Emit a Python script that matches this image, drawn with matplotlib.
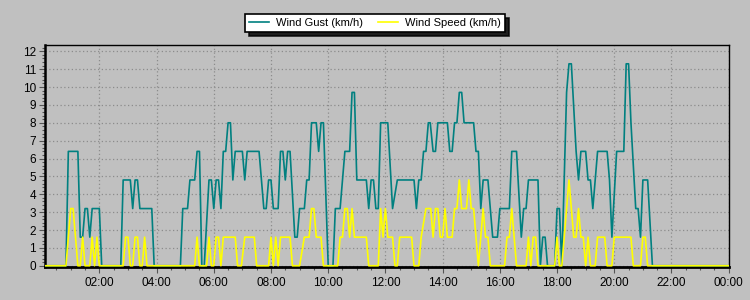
import matplotlib
matplotlib.use("Agg")
import matplotlib.pyplot as plt
from matplotlib.ticker import MultipleLocator, FuncFormatter

# ---- data (minutes of day, km/h) ----
gust_minutes = [5, 50, 55, 75, 80, 85, 90, 95, 100, 105, 120, 125, 165, 170, 185, 190, 195, 200, 205, 230,
                235, 290, 295, 305, 310, 320, 325, 330, 335, 340, 350, 355, 360, 365, 370, 375, 380, 385, 390, 395,
                400, 405, 420, 425, 430, 455, 465, 470, 475, 480, 485, 495, 500, 505, 510, 515, 520, 530, 535, 540,
                550, 555, 560, 565, 575, 580, 585, 590, 600, 610, 615, 625, 635, 645, 650, 655, 660, 680, 685, 690,
                695, 700, 705, 710, 725, 735, 745, 780, 785, 790, 795, 800, 805, 810, 814, 820, 825, 830, 850, 855,
                860, 865, 870, 875, 880, 885, 905, 910, 915, 920, 925, 935, 945, 955, 960, 980, 985, 995, 1005, 1010,
                1015, 1020, 1040, 1045, 1050, 1055, 1060, 1075, 1080, 1085, 1090, 1100, 1105, 1110, 1120, 1125, 1130,
                1140, 1145, 1150, 1155, 1165, 1185, 1190, 1195, 1205, 1220, 1225, 1230, 1235, 1245, 1250, 1255, 1260,
                1270, 1280, 1440]
gust_values = [0, 0, 6.4, 6.4, 1.6, 1.6, 3.2, 3.2, 1.6, 3.2, 3.2, 0, 0, 4.8, 4.8, 3.2, 4.8, 4.8, 3.2, 3.2,
               0, 0, 3.2, 3.2, 4.8, 4.8, 6.4, 6.4, 0, 0, 4.8, 4.8, 3.2, 4.8, 4.8, 3.2, 6.4, 6.4, 8.0, 8.0,
               4.8, 6.4, 6.4, 4.8, 6.4, 6.4, 3.2, 3.2, 4.8, 4.8, 3.2, 3.2, 6.4, 6.4, 4.8, 6.4, 6.4, 1.6, 1.6, 3.2,
               3.2, 4.8, 4.8, 8.0, 8.0, 6.4, 8.0, 8.0, 0, 0, 3.2, 3.2, 6.4, 6.4, 9.7, 9.7, 4.8, 4.8, 3.2, 4.8,
               4.8, 3.2, 3.2, 8.0, 8.0, 3.2, 4.8, 4.8, 3.2, 4.8, 4.8, 6.4, 6.4, 8.0, 8.0, 6.4, 6.4, 8.0, 8.0, 6.4,
               6.4, 8.0, 8.0, 9.7, 9.7, 8.0, 8.0, 6.4, 6.4, 3.2, 4.8, 4.8, 1.6, 1.6, 3.2, 3.2, 6.4, 6.4, 1.6, 3.2,
               3.2, 4.8, 4.8, 0, 1.6, 1.6, 0, 0, 3.2, 3.2, 0, 9.7, 11.3, 11.3, 6.4, 4.8, 6.4,
               6.4, 4.8, 4.8, 3.2, 6.4, 6.4, 4.8, 1.6, 6.4, 6.4, 11.3, 11.3, 8.0, 3.2, 3.2, 1.6, 4.8,
               4.8, 0, 0]

speed_minutes = [5, 50, 60, 65, 75, 80, 85, 90, 100, 105, 110, 115, 120, 170, 175, 180, 185, 190, 195, 200,
                 205, 210, 215, 220, 320, 325, 330, 345, 350, 355, 360, 365, 370, 375, 380, 405, 410, 418, 425, 445,
                 450, 475, 480, 485, 490, 495, 500, 520, 525, 540, 550, 560, 565, 570, 575, 585, 590, 620, 625, 630,
                 635, 640, 645, 650, 655, 680, 685, 705, 710, 715, 720, 725, 735, 740, 745, 750, 775, 780, 790, 795,
                 805, 815, 820, 825, 830, 835, 840, 845, 850, 860, 865, 870, 875, 880, 890, 895, 900, 905, 915, 925,
                 930, 935, 940, 970, 975, 980, 985, 995, 1015, 1020, 1025, 1030, 1035, 1040, 1075, 1080, 1085, 1090,
                 1105, 1115, 1120, 1125, 1130, 1135, 1140, 1145, 1150, 1160, 1165, 1180, 1185, 1195, 1200, 1235, 1240,
                 1255, 1260, 1265, 1270, 1440]
speed_values = [0, 0, 3.2, 3.2, 0, 0, 1.6, 0, 0, 1.6, 0, 1.6, 0, 0, 1.6, 1.6, 0, 0, 1.6, 1.6,
                0, 0, 1.6, 0, 0, 1.6, 0, 0, 1.6, 0, 0, 1.6, 1.6, 0, 1.6, 1.6, 0, 0, 1.6, 1.6,
                0, 0, 1.6, 0, 1.6, 0, 1.6, 1.6, 0, 0, 1.6, 1.6, 3.2, 3.2, 1.6, 1.6, 0, 0, 1.6, 1.6,
                3.2, 3.2, 1.6, 3.2, 1.6, 1.6, 0, 0, 3.2, 1.6, 3.2, 1.6, 1.6, 0, 0, 1.6, 1.6, 0, 0, 1.6,
                3.2, 3.2, 1.6, 3.2, 3.2, 1.6, 1.6, 3.2, 1.6, 1.6, 3.2, 3.2, 4.8, 3.2, 3.2, 4.8, 3.2, 3.2, 0, 3.2,
                1.6, 1.6, 0, 0, 1.6, 1.6, 3.2, 0, 0, 1.6, 0, 1.6, 1.6, 0, 0, 1.6, 0, 0,
                4.8, 1.6, 1.6, 3.2, 1.6, 1.6, 0, 1.6, 0, 0, 1.6, 1.6, 0, 0, 1.6, 1.6, 0,
                0, 1.6, 1.6, 0, 0]

series_labels = ["Wind Gust (km/h)", "Wind Speed (km/h)"]

BG = "#c0c0c0"
TEAL = "#008080"
YELLOW = "#ffff00"

plt.rcParams["font.family"] = ["Liberation Sans", "DejaVu Sans"]

fig = plt.figure(figsize=(7.5, 3.0), dpi=100, facecolor=BG)
ax = fig.add_axes([44.5 / 750, 1 - 267 / 300, (728.7 - 44.5) / 750, (267 - 44.7) / 300])
ax.set_facecolor(BG)

gx = [m / 60 for m in gust_minutes]
sx = [m / 60 for m in speed_minutes]
l1, = ax.plot(gx, gust_values, color=TEAL, lw=1.2, zorder=3)
l2, = ax.plot(sx, speed_values, color=YELLOW, lw=1.2, zorder=4)

ax.set_xlim(5 / 60, 24)
ax.set_ylim(-0.07, 12.37)

ax.xaxis.set_major_locator(MultipleLocator(2))
ax.xaxis.set_minor_locator(MultipleLocator(0.5))
ax.xaxis.set_major_formatter(FuncFormatter(lambda v, p: f"{int(round(v)) % 24:02d}:00"))
ax.yaxis.set_major_locator(MultipleLocator(1))
ax.yaxis.set_minor_locator(MultipleLocator(0.2))
ax.yaxis.set_major_formatter(FuncFormatter(lambda v, p: f"{int(round(v))}"))

ax.grid(True, which="major", color="#8c8c8c", linestyle=(0, (1, 2)), linewidth=0.9)
ax.set_axisbelow(True)

ax.tick_params(axis="both", which="major", length=4, width=0.8, color="#555555",
               labelsize=8.5, labelcolor="black")
ax.tick_params(axis="both", which="minor", length=2.5, width=0.8, color="#555555")
ax.tick_params(axis="x", which="major", pad=3)
ax.tick_params(axis="y", which="major", pad=2)

for side in ["top", "right"]:
    ax.spines[side].set_linewidth(1.0)
    ax.spines[side].set_color("black")
ax.spines["left"].set_linewidth(1.8)
ax.spines["bottom"].set_linewidth(2.0)
ax.spines["left"].set_color("black")
ax.spines["bottom"].set_color("black")

leg = fig.legend([l1, l2], series_labels, loc="center", bbox_to_anchor=(0.5, 1 - 23 / 300),
                 ncol=2, fontsize=8, frameon=True, fancybox=False,
                 shadow={"color": "black", "alpha": 0.85, "ox": 3, "oy": -3},
                 facecolor="white", edgecolor="black", handlelength=1.8, handletextpad=0.6,
                 columnspacing=1.4, borderpad=0.35)
leg.get_frame().set_linewidth(1.2)
leg.get_frame().set_alpha(1)
leg.get_frame().set_facecolor("white")

fig.savefig("out.png", dpi=100, facecolor=BG)
